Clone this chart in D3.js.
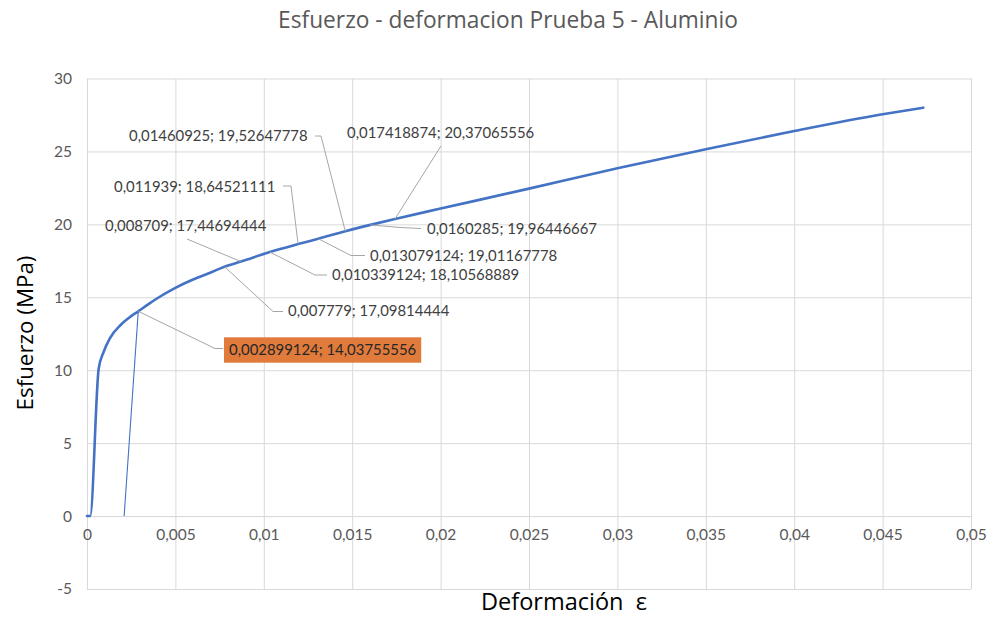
<!DOCTYPE html>
<html>
<head>
<meta charset="utf-8">
<script src="https://cdn.jsdelivr.net/npm/d3@7"></script>
<style>
  body { margin: 0; background: #ffffff; }
  svg { display: block; }
</style>
</head>
<body>
<svg id="chart" width="993" height="618"></svg>
<script>
// Stress-strain curve, test 5, aluminium
const strain = [0, 0.00018, 0.00066, 0.00094, 0.0013, 0.0019, 0.0024, 0.002899124,
  0.0035, 0.004, 0.005, 0.006, 0.007, 0.007779, 0.008709, 0.010339124, 0.011939,
  0.013079124, 0.01460925, 0.0160285, 0.017418874, 0.02, 0.025, 0.03, 0.035, 0.04,
  0.045, 0.0473];
const stress = [0, 0, 10.1, 11.25, 12.2, 13.1, 13.62, 14.03755556,
  14.55, 14.95, 15.65, 16.22, 16.7, 17.09814444, 17.44694444, 18.10568889, 18.64521111,
  19.01167778, 19.52647778, 19.96446667, 20.37065556, 21.08, 22.45, 23.85, 25.15, 26.4,
  27.55, 28.0];

// 0.2 % offset line used to find the yield point
const offsetStrain = [0.0021, 0.002899124];
const offsetStress = [0, 14.03755556];

// Points that carry a data label
const labeledStrain = [0.01460925, 0.017418874, 0.011939, 0.008709, 0.0160285,
  0.013079124, 0.010339124, 0.007779, 0.002899124];

const xTicks = [0, 0.005, 0.01, 0.015, 0.02, 0.025, 0.03, 0.035, 0.04, 0.045, 0.05];
const xTickLabels = ["0", "0,005", "0,01", "0,015", "0,02", "0,025", "0,03", "0,035", "0,04", "0,045", "0,05"];
const yTicks = [-5, 0, 5, 10, 15, 20, 25, 30];
const yTickLabels = ["-5", "0", "5", "10", "15", "20", "25", "30"];

const titleText = "Esfuerzo - deformacion Prueba 5 - Aluminio";
const xTitle = "Deformación  ε";
const yTitle = "Esfuerzo (MPa)";

// ---- layout ----
const FONT = "Lato, 'Open Sans', sans-serif";
const TITLE_FONT = "'Open Sans', Lato, sans-serif";
const plot = { left: 87, right: 971, top: 78.5, bottom: 589 };
const blue = "#4472C4";

const svg = d3.select("#chart");
const x = d3.scaleLinear().domain([0, 0.05]).range([plot.left, plot.right]);
const y = d3.scaleLinear().domain([-5, 30]).range([plot.bottom, plot.top]);

// scale a text's font size so the rendered string spans the given width
function fitWidth(sel, w) {
  const cur = sel.node().getComputedTextLength();
  const fs = parseFloat(sel.style("font-size"));
  sel.style("font-size", (fs * w / cur) + "px");
}

// horizontal gridlines + value labels
const yAxis = svg.append("g")
  .attr("transform", `translate(${plot.left},0)`)
  .call(d3.axisLeft(y).tickValues(yTicks).tickSize(-(plot.right - plot.left)).tickPadding(15)
    .tickFormat((d, i) => yTickLabels[i]));
yAxis.select(".domain").remove();
yAxis.selectAll("line").attr("stroke", "#d9d9d9").attr("stroke-width", 1);
yAxis.selectAll("text").attr("fill", "#595959").style("font", `15.5px ${FONT}`);

// vertical gridlines
const xGrid = svg.append("g")
  .attr("transform", `translate(0,${plot.bottom})`)
  .call(d3.axisBottom(x).tickValues(xTicks).tickSize(-(plot.bottom - plot.top)).tickFormat(""));
xGrid.select(".domain").remove();
xGrid.selectAll("line").attr("stroke", "#d9d9d9").attr("stroke-width", 1);

// tick labels sit on the zero line
const xAxis = svg.append("g")
  .attr("transform", `translate(0,${y(0)})`)
  .call(d3.axisBottom(x).tickValues(xTicks).tickSize(0).tickPadding(13)
    .tickFormat((d, i) => xTickLabels[i]));
xAxis.select(".domain").attr("stroke", "#d9d9d9");
xAxis.selectAll("text").attr("fill", "#595959").style("font", `15.5px ${FONT}`);

// offset line
svg.append("path")
  .datum(offsetStrain.map((s, i) => [s, offsetStress[i]]))
  .attr("fill", "none").attr("stroke", blue).attr("stroke-width", 1.1)
  .attr("d", d3.line().x(d => x(d[0])).y(d => y(d[1])));

// main curve
svg.append("path")
  .datum(strain.map((s, i) => [s, stress[i]]))
  .attr("fill", "none").attr("stroke", blue).attr("stroke-width", 2.6)
  .attr("stroke-linejoin", "round").attr("stroke-linecap", "round")
  .attr("d", d3.line().x(d => x(d[0])).y(d => y(d[1])).curve(d3.curveMonotoneX));

// data labels with leader lines
const fmt = v => String(v).replace(".", ",");
const labelLayout = [
  { tx: 129, ty: 136, lead: [[315, 136], [321, 136]] },
  { tx: 347, ty: 133, lead: [[441, 146]] },
  { tx: 114, ty: 187, lead: [[283, 186], [291, 186]] },
  { tx: 105, ty: 226, lead: [[187, 239]] },
  { tx: 427, ty: 229, lead: [[421, 228.5], [400, 227.5]] },
  { tx: 370, ty: 256, lead: [[365, 255.5], [351, 255.5]] },
  { tx: 332, ty: 275, lead: [[327, 275], [315, 275]] },
  { tx: 288, ty: 311, lead: [[283, 311.5], [273, 311.5]] },
  { tx: 229, ty: 350, lead: [[223, 348.5], [215, 348.5]], box: true }
];

const labels = svg.append("g");
labeledStrain.forEach((s, i) => {
  const k = strain.indexOf(s);
  const px = x(strain[k]), py = y(stress[k]);
  const L = labelLayout[i];
  labels.append("path")
    .attr("fill", "none").attr("stroke", "#a6a6a6").attr("stroke-width", 1)
    .attr("d", d3.line()([...L.lead, [px, py]]));
  const g = labels.append("g");
  const t = g.append("text")
    .attr("x", L.tx).attr("y", L.ty).attr("dy", "0.35em")
    .attr("fill", "#404040").style("font", `14.9px ${FONT}`)
    .text(`${fmt(strain[k])}; ${fmt(stress[k])}`);
  if (L.box) {
    const b = t.node().getBBox();
    g.insert("rect", "text")
      .attr("x", b.x - 5).attr("y", L.ty - 12.7)
      .attr("width", b.width + 10).attr("height", 25.4)
      .attr("fill", "#E07B3C");
    t.attr("fill", "#262626");
  }
});

// titles
const title = svg.append("text")
  .attr("x", 508).attr("y", 27.5).attr("text-anchor", "middle")
  .attr("fill", "#595959").style("font", `21px ${TITLE_FONT}`)
  .text(titleText);
fitWidth(title, 460);

const yT = svg.append("text")
  .attr("transform", `translate(33,333) rotate(-90)`)
  .attr("text-anchor", "middle")
  .attr("fill", "#000").style("font", `22px ${TITLE_FONT}`)
  .text(yTitle);
fitWidth(yT, 155);

const xT = svg.append("text")
  .attr("x", 564).attr("y", 610).attr("text-anchor", "middle")
  .attr("fill", "#000").style("font", `22px ${TITLE_FONT}`)
  .attr("xml:space", "preserve").style("white-space", "pre")
  .text(xTitle);
fitWidth(xT, 166);
</script>
</body>
</html>
